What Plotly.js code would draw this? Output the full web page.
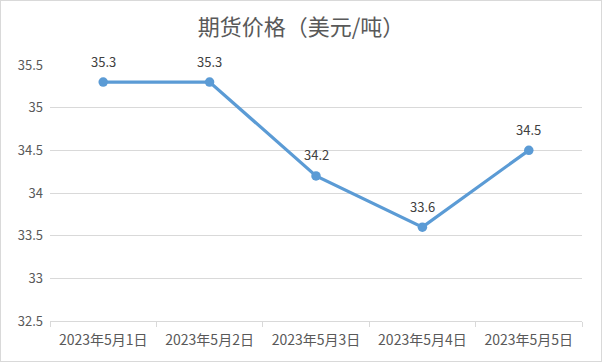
<!DOCTYPE html>
<html><head><meta charset="utf-8">
<script src="https://cdn.plot.ly/plotly-3.0.1.min.js"></script>
<style>
html,body{margin:0;padding:0;background:#fff;}
#chart{width:600px;height:360px;border:1px solid #d9d9d9;}
</style></head>
<body><div id="chart"></div>
<script>
const categories = ["2023年5月1日","2023年5月2日","2023年5月3日","2023年5月4日","2023年5月5日"];
const prices = [35.3, 35.3, 34.2, 33.6, 34.5];
const labels = ["35.3","35.3","34.2","33.6","34.5"];
const titleText = "期货价格（美元/吨）";

const font = '"Noto Sans CJK SC", "Noto Sans", sans-serif';
const trace = {
  x: categories, y: prices,
  type: 'scatter', mode: 'lines+markers',
  line: {color: '#5B9BD5', width: 3.2},
  marker: {color: '#5B9BD5', size: 9.5},
  cliponaxis: false, hoverinfo: 'none'
};
const annotations = categories.map((c, i) => ({
  x: c, y: prices[i], text: labels[i], showarrow: false,
  xref: 'x', yref: 'y', yshift: 21, xanchor: 'center', yanchor: 'middle',
  font: {family: font, size: 13, color: '#404040'}
}));
const layout = {
  width: 600, height: 360,
  margin: {l: 49, r: 19, t: 64, b: 40},
  paper_bgcolor: '#fff', plot_bgcolor: '#fff',
  showlegend: false,
  annotations: annotations,
  title: {text: titleText, x: 0.5, xanchor: 'center', y: 0.928, yanchor: 'middle',
          font: {family: font, size: 22, color: '#595959'}},
  xaxis: {type: 'category', range: [-0.5, 4.5], tickson: 'boundaries',
          ticks: 'outside', ticklen: 5, tickcolor: '#d9d9d9',
          showline: true, linecolor: '#d9d9d9', linewidth: 1, showgrid: false,
          ticklabelstandoff: 6,
          tickfont: {family: font, size: 14, color: '#595959'}, fixedrange: true},
  yaxis: {range: [32.5, 35.5], dtick: 0.5, tick0: 32.5, showgrid: true,
          gridcolor: '#d9d9d9', gridwidth: 1, zeroline: false, showline: false,
          ticks: '', ticklabelstandoff: 6,
          tickfont: {family: font, size: 13, color: '#595959'}, fixedrange: true}
};
Plotly.newPlot('chart', [trace], layout, {displayModeBar: false, staticPlot: true});
</script></body></html>
